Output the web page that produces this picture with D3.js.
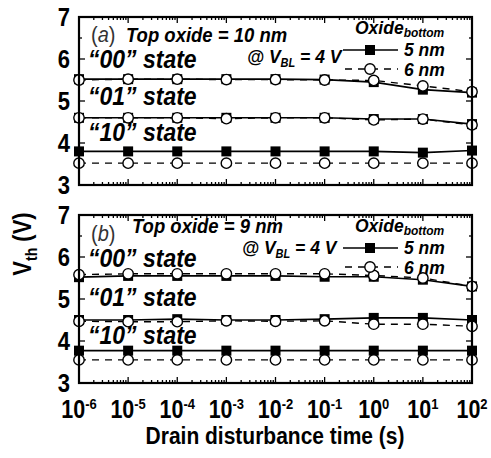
<!DOCTYPE html>
<html>
<head>
<meta charset="utf-8">
<script src="https://cdn.jsdelivr.net/npm/d3@7"></script>
<style>
  body { margin: 0; background: #fff; }
  svg { display: block; }
  text { font-family: "Liberation Sans", Arial, sans-serif; }
</style>
</head>
<body>
<div id="chart"></div>
<script>
// decades on the x axis (s)
var times = [1e-6, 1e-5, 1e-4, 1e-3, 1e-2, 1e-1, 1e0, 1e1, 1e2];
var tickExp = ["-6", "-5", "-4", "-3", "-2", "-1", "0", "1", "2"];
var yTicks = [3, 4, 5, 6, 7];

// panel (a) top oxide = 10 nm
var a_5nm_00 = [5.52, 5.52, 5.52, 5.52, 5.52, 5.51, 5.45, 5.27, 5.2];
var a_6nm_00 = [5.5, 5.52, 5.52, 5.51, 5.51, 5.5, 5.49, 5.36, 5.22];
var a_5nm_01 = [4.6, 4.6, 4.6, 4.6, 4.6, 4.6, 4.57, 4.57, 4.45];
var a_6nm_01 = [4.6, 4.6, 4.6, 4.58, 4.6, 4.6, 4.55, 4.57, 4.43];
var a_5nm_10 = [3.8, 3.8, 3.8, 3.8, 3.8, 3.8, 3.8, 3.77, 3.82];
var a_6nm_10 = [3.52, 3.52, 3.52, 3.52, 3.52, 3.52, 3.52, 3.52, 3.52];

// panel (b) top oxide = 9 nm
var b_5nm_00 = [5.52, 5.55, 5.55, 5.55, 5.55, 5.53, 5.53, 5.46, 5.3];
var b_6nm_00 = [5.58, 5.6, 5.6, 5.6, 5.6, 5.6, 5.56, 5.5, 5.3];
var b_5nm_01 = [4.5, 4.5, 4.52, 4.5, 4.5, 4.52, 4.55, 4.55, 4.5];
var b_6nm_01 = [4.47, 4.46, 4.46, 4.48, 4.47, 4.48, 4.4, 4.4, 4.35];
var b_5nm_10 = [3.77, 3.77, 3.77, 3.77, 3.77, 3.77, 3.77, 3.77, 3.77];
var b_6nm_10 = [3.55, 3.55, 3.55, 3.55, 3.55, 3.55, 3.55, 3.55, 3.55];

var W = 491, H = 458;
var left = 79, right = 472, ph = 168;

var svg = d3.select("#chart").append("svg")
  .attr("width", W).attr("height", H);

var x = d3.scaleLog().domain([1e-6, 1e2]).range([left, right]);

// the original lettering is a bit taller than Arial, so stretch it vertically
function label(g, px, py, sy) {
  return g.append("text")
    .attr("transform", "translate(" + px + "," + py + ") scale(1," + (sy || 1.15) + ")");
}

function panel(top, s5, s6, txt) {
  var y = d3.scaleLinear().domain([3, 7]).range([top + ph, top]);
  var g = svg.append("g");

  // minor / major ticks, inward on all four sides
  var xt = [];
  for (var e = -6; e <= 2; e++) {
    xt.push({ v: Math.pow(10, e), len: 6 });
    if (e < 2) for (var m = 2; m < 10; m++) xt.push({ v: m * Math.pow(10, e), len: 3 });
  }
  xt.forEach(function(t) {
    g.append("line").attr("x1", x(t.v)).attr("x2", x(t.v))
      .attr("y1", top + ph).attr("y2", top + ph - t.len).attr("stroke", "#000").attr("stroke-width", 1.3);
    g.append("line").attr("x1", x(t.v)).attr("x2", x(t.v))
      .attr("y1", top).attr("y2", top + t.len).attr("stroke", "#000").attr("stroke-width", 1.3);
  });
  d3.range(3, 7.01, 0.5).forEach(function(v) {
    var len = (v % 1 === 0) ? 6 : 3;
    g.append("line").attr("x1", left).attr("x2", left + len)
      .attr("y1", y(v)).attr("y2", y(v)).attr("stroke", "#000").attr("stroke-width", 1.3);
    g.append("line").attr("x1", right).attr("x2", right - len)
      .attr("y1", y(v)).attr("y2", y(v)).attr("stroke", "#000").attr("stroke-width", 1.3);
  });

  // y tick labels
  yTicks.forEach(function(d) {
    label(g, 70, y(d) + 8.5, 1.17)
      .attr("text-anchor", "end").attr("font-size", 22).attr("font-weight", "bold")
      .text(d);
  });

  var line = d3.line()
    .x(function(d, i) { return x(times[i]); })
    .y(function(d) { return y(d); });

  // 5 nm: solid + filled squares, 6 nm: dashed + open circles
  s5.forEach(function(arr) {
    g.append("path").datum(arr).attr("d", line)
      .attr("fill", "none").attr("stroke", "#000").attr("stroke-width", 1.6);
  });
  s6.forEach(function(arr) {
    g.append("path").datum(arr).attr("d", line)
      .attr("fill", "none").attr("stroke", "#000").attr("stroke-width", 1.4)
      .attr("stroke-dasharray", "7,6");
  });
  s5.forEach(function(arr) {
    g.selectAll(null).data(arr).enter().append("rect")
      .attr("x", function(d, i) { return x(times[i]) - 5; })
      .attr("y", function(d) { return y(d) - 5; })
      .attr("width", 10).attr("height", 10).attr("fill", "#000");
  });
  s6.forEach(function(arr) {
    g.selectAll(null).data(arr).enter().append("circle")
      .attr("cx", function(d, i) { return x(times[i]); })
      .attr("cy", function(d) { return y(d); })
      .attr("r", 5.2).attr("fill", "#fff").attr("stroke", "#000").attr("stroke-width", 1.4);
  });

  // frame
  g.append("rect").attr("x", left).attr("y", top).attr("width", right - left).attr("height", ph)
    .attr("fill", "none").attr("stroke", "#000").attr("stroke-width", 2.2);

  // annotations
  var lab = label(g, 91, top + txt.labY, 1.1).attr("font-size", 20).attr("fill", "#333");
  lab.append("tspan").text("(");
  lab.append("tspan").attr("font-style", "italic").text(txt.letter);
  lab.append("tspan").text(")");

  label(g, txt.topX, top + txt.topY, 1.1)
    .attr("font-size", 18.5).attr("font-weight", "bold").attr("font-style", "italic")
    .text(txt.top);

  ["\u201c00\u201d state", "\u201c01\u201d state", "\u201c10\u201d state"].forEach(function(s, i) {
    label(g, 88, top + txt.stateY[i], 1.12)
      .attr("font-size", 23).attr("font-weight", "bold").attr("font-style", "italic")
      .text(s);
  });

  var at = label(g, txt.atX, top + txt.atY, 1.1)
    .attr("font-size", 17.5).attr("font-weight", "bold").attr("font-style", "italic");
  at.append("tspan").text("@ V");
  at.append("tspan").attr("font-size", 11).attr("dy", 4).text("BL");
  at.append("tspan").attr("dy", -4).text(" = 4 V");

  var ox = label(g, 355, top + 17, 1.05)
    .attr("font-size", 17.5).attr("font-weight", "bold").attr("font-style", "italic");
  ox.append("tspan").text("Oxide");
  ox.append("tspan").attr("font-size", 12).attr("dy", 3).text("bottom");

  // legend
  var r1 = top + 33, r2 = top + 52;
  g.append("line").attr("x1", 343).attr("x2", 398).attr("y1", r1).attr("y2", r1)
    .attr("stroke", "#000").attr("stroke-width", 1.6);
  g.append("rect").attr("x", 365).attr("y", r1 - 5).attr("width", 10).attr("height", 10).attr("fill", "#000");
  label(g, 404, r1 + 6, 1.05).attr("font-size", 17.5)
    .attr("font-weight", "bold").attr("font-style", "italic").text("5 nm");
  g.append("line").attr("x1", 345).attr("x2", 398).attr("y1", r2).attr("y2", r2)
    .attr("stroke", "#000").attr("stroke-width", 1.4).attr("stroke-dasharray", "7,6");
  g.append("circle").attr("cx", 370).attr("cy", r2).attr("r", 5.2)
    .attr("fill", "#fff").attr("stroke", "#000").attr("stroke-width", 1.4);
  label(g, 404, r2 + 7, 1.05).attr("font-size", 17.5)
    .attr("font-weight", "bold").attr("font-style", "italic").text("6 nm");
}

panel(17, [a_5nm_00, a_5nm_01, a_5nm_10], [a_6nm_00, a_6nm_01, a_6nm_10], {
  letter: "a", labY: 25, top: "Top oxide = 10 nm", topX: 126, topY: 25,
  stateY: [51, 88, 124], atX: 247, atY: 46
});
panel(215, [b_5nm_00, b_5nm_01, b_5nm_10], [b_6nm_00, b_6nm_01, b_6nm_10], {
  letter: "b", labY: 26, top: "Top oxide = 9 nm", topX: 132, topY: 18,
  stateY: [52, 91, 129], atX: 242, atY: 39
});

// x tick labels with superscript exponents
times.forEach(function(d, i) {
  var t = label(svg, x(d), 418, 1.18)
    .attr("text-anchor", "middle").attr("font-size", 21.5).attr("font-weight", "bold");
  t.append("tspan").text("10");
  t.append("tspan").attr("font-size", 13).attr("dy", -8).text(tickExp[i]);
});

label(svg, 275, 444, 1.18).attr("text-anchor", "middle")
  .attr("font-size", 21).attr("font-weight", "bold").text("Drain disturbance time (s)");

var yt = svg.append("text").attr("transform", "translate(31,244) rotate(-90) scale(1,1.15)")
  .attr("text-anchor", "middle").attr("font-size", 22).attr("font-weight", "bold");
yt.append("tspan").text("V");
yt.append("tspan").attr("font-size", 14).attr("dy", 5).text("th");
yt.append("tspan").attr("dy", -5).text(" (V)");
</script>
</body>
</html>
